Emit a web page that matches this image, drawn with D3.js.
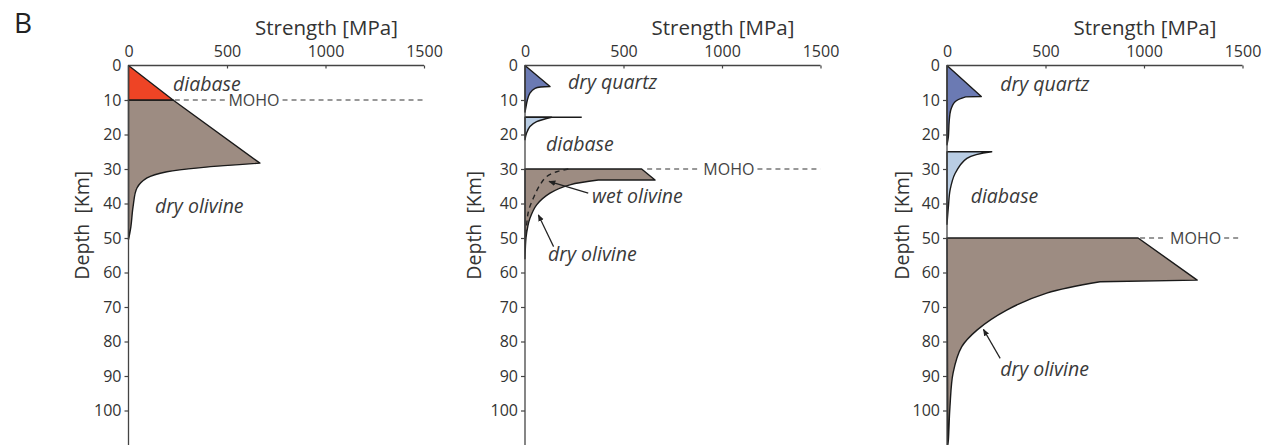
<!DOCTYPE html>
<html><head><meta charset="utf-8">
<script src="https://cdn.jsdelivr.net/npm/d3@7"></script>
<style>
html,body{margin:0;padding:0;background:#fff;}
svg{display:block;font-family:"Open Sans","Noto Sans",sans-serif;}
</style></head>
<body>
<svg id="chart" width="1284" height="445"></svg>
<script>
// ---- axis ticks ----
const strengthTicks = [0, 500, 1000, 1500];
const depthTicks = [0, 10, 20, 30, 40, 50, 60, 70, 80, 90, 100];
const strengthDomain = [0, 1500];
const depthDomain = [0, 110];

// ---- panel 1 : [strength MPa, depth km] ----
const p1DiabaseBrittle = [[0, 0], [226, 10], [0, 10]];
const p1OlivineBrittle = [[0, 10], [226, 10], [667, 28.3]];
const p1OlivineDuctile = [[667, 28.3], [195, 30.8], [94, 32.6], [43, 35.5], [23, 41], [12, 46.8], [0, 50.5]];

// ---- panel 2 ----
const p2QuartzBrittle = [[0, 0], [127, 6.1]];
const p2QuartzDuctile = [[127, 6.1], [51, 6.6], [25, 8], [12, 10], [5, 12], [0, 13.5]];
const p2DiabaseBrittle = [[0, 15], [135, 15]];
const p2DiabaseDuctile = [[135, 15], [59, 16.3], [25, 17.7], [8, 19.6], [0, 21.5]];
const p2DiabaseTop = [[0, 15], [288, 15]];
const p2OlivineBrittle = [[0, 30], [592, 30], [660, 33.2], [372, 33.2]];
const p2OlivineDuctile = [[372, 33.2], [228, 34.6], [127, 37], [59, 40.4], [25, 44.3], [14, 46.7], [5, 50], [0, 56]];
const p2WetOlivine = [[220, 30], [161, 30.8], [110, 32.2], [76, 34.6], [42, 38.5], [17, 42.4], [5, 49]];

// ---- panel 3 ----
const p3QuartzBrittle = [[0, 0], [174, 9], [95, 9.1]];
const p3QuartzDuctile = [[95, 9.1], [41, 10.5], [19, 12.9], [11, 16.3], [7, 20.6], [0, 23]];
const p3DiabaseBrittle = [[0, 25], [227, 25]];
const p3DiabaseDuctile = [[227, 25], [101, 26.9], [41, 31.3], [16, 36], [7, 41], [0, 46]];
const p3OlivineBrittle = [[0, 50], [970, 50], [1270, 62.2], [777, 62.7]];
const p3OlivineDuctile = [[777, 62.7], [506, 66], [303, 70.9], [152, 76.7], [75, 81.5], [31, 89.1], [15, 98.9], [7, 108.5], [4, 110]];

// ---- annotations: [text, strength, depth] ----
const p1Labels = [["diabase", 226, 7.4], ["dry olivine", 134, 42.8]];
const p2Labels = [["dry quartz", 218, 6.9], ["diabase", 107, 24.8], ["wet olivine", 340, 39.8], ["dry olivine", 117, 56.7]];
const p3Labels = [["dry quartz", 270, 7.3], ["diabase", 120, 39.8], ["dry olivine", 270, 90]];
// arrows: [fromStrength, fromDepth, toStrength, toDepth]
const p2Arrows = [[321, 37, 122, 33.6], [145, 52.5, 68, 43.3]];
const p3Arrows = [[270, 84.9, 185, 76.5]];
// MOHO: depth, dash start, dash end, label centre (MPa)
const mohoDepths = [10, 30, 50];
const mohoStart = [235, 620, 980];
const mohoEnd = [1500, 1500, 1480];
const mohoLabelAt = [637, 1035, 1262];

const axisTitleX = "Strength [MPa]";
const axisTitleY = "Depth  [Km]";

// ---- colours ----
const cRed = "#ee4425", cBrown = "#9d8c82", cQuartz = "#6b7ab3", cDiabase = "#b9cde4";

// ---- layout ----
const panelX0 = [128.5, 525, 947];
const panelYTitle = [-40, -44, -38];
const yTop = 65.5, yBottom100 = 410.5;

const panels = [
  {layers: [
     {b: p1OlivineBrittle, d: p1OlivineDuctile, fill: cBrown},
     {b: p1DiabaseBrittle, d: null, fill: cRed}],
   extra: [], dashed: [], labels: p1Labels, arrows: []},
  {layers: [
     {b: p2QuartzBrittle, d: p2QuartzDuctile, fill: cQuartz},
     {b: p2DiabaseBrittle, d: p2DiabaseDuctile, fill: cDiabase},
     {b: p2OlivineBrittle, d: p2OlivineDuctile, fill: cBrown}],
   extra: [p2DiabaseTop], dashed: [p2WetOlivine], labels: p2Labels, arrows: p2Arrows},
  {layers: [
     {b: p3QuartzBrittle, d: p3QuartzDuctile, fill: cQuartz},
     {b: p3DiabaseBrittle, d: p3DiabaseDuctile, fill: cDiabase},
     {b: p3OlivineBrittle, d: p3OlivineDuctile, fill: cBrown}],
   extra: [], dashed: [], labels: p3Labels, arrows: p3Arrows}
];

const svg = d3.select("#chart");
const defs = svg.append("defs");
defs.append("marker").attr("id", "ah").attr("viewBox", "0 0 10 10")
  .attr("refX", 9).attr("refY", 5).attr("markerWidth", 7).attr("markerHeight", 7)
  .attr("markerUnits", "userSpaceOnUse").attr("orient", "auto")
  .append("path").attr("d", "M0,1 L10,5 L0,9 Z").attr("fill", "#222");

svg.append("text").attr("x", 14).attr("y", 33).attr("font-size", 28)
  .attr("fill", "#222").text("B");

const pxPerUnit = (yBottom100 - yTop) / 100;
const y = d3.scaleLinear().domain(depthDomain).range([yTop, yTop + pxPerUnit * depthDomain[1]]);

panels.forEach((p, i) => {
  const x0 = panelX0[i];
  const x = d3.scaleLinear().domain(strengthDomain).range([x0, x0 + 295.5]);
  const g = svg.append("g");
  const smooth = d3.line().x(d => x(d[0])).y(d => y(d[1])).curve(d3.curveCatmullRom.alpha(0.5));
  const straight = d3.line().x(d => x(d[0])).y(d => y(d[1]));

  p.layers.forEach(L => {
    let path = straight(L.b);
    if (L.d) path += smooth(L.d).replace(/^M/, "L");
    path += "Z";
    g.append("path").attr("d", path).attr("fill", L.fill)
      .attr("stroke", "#1a1a1a").attr("stroke-width", 1.4).attr("stroke-linejoin", "round");
  });
  p.extra.forEach(e => {
    g.append("path").attr("d", straight(e)).attr("fill", "none")
      .attr("stroke", "#1a1a1a").attr("stroke-width", 1.6);
  });
  p.dashed.forEach(e => {
    g.append("path").attr("d", smooth(e)).attr("fill", "none")
      .attr("stroke", "#222").attr("stroke-width", 1.4).attr("stroke-dasharray", "5,4");
  });

  // MOHO
  const mt = g.append("text").attr("x", x(mohoLabelAt[i])).attr("y", y(mohoDepths[i]))
    .attr("dy", "0.36em").attr("text-anchor", "middle").attr("font-size", 16)
    .attr("fill", "#444").text("MOHO");
  const bb = mt.node().getBBox();
  const my = y(mohoDepths[i]);
  [[x(mohoStart[i]), bb.x - 3], [bb.x + bb.width + 3, x(mohoEnd[i])]].forEach(s => {
    g.append("line").attr("x1", s[0]).attr("x2", s[1]).attr("y1", my).attr("y2", my)
      .attr("stroke", "#333").attr("stroke-width", 1.1).attr("stroke-dasharray", "5,4");
  });

  // labels
  p.labels.forEach(l => {
    g.append("text").attr("x", x(l[1])).attr("y", y(l[2])).attr("font-size", 19.5)
      .attr("font-style", "italic").attr("fill", "#3a3a3a").text(l[0]);
  });
  p.arrows.forEach(a => {
    g.append("line").attr("x1", x(a[0])).attr("y1", y(a[1])).attr("x2", x(a[2])).attr("y2", y(a[3]))
      .attr("stroke", "#222").attr("stroke-width", 1.2).attr("marker-end", "url(#ah)");
  });

  // axes
  const xAxis = d3.axisTop(x).tickValues(strengthTicks).tickSize(-3).tickPadding(9).tickFormat(d3.format("d"));
  const gx = g.append("g").attr("transform", `translate(0,${yTop})`).call(xAxis);
  const yAxis = d3.axisLeft(y).tickValues(depthTicks).tickSize(4).tickPadding(3).tickFormat(d3.format("d"));
  const gy = g.append("g").attr("transform", `translate(${x0},0)`).call(yAxis);
  [gx, gy].forEach(a => {
    a.select(".domain").attr("stroke", "#444").attr("stroke-width", 1.3);
    a.selectAll(".tick line").attr("stroke", "#444").attr("stroke-width", 1.2);
    a.selectAll(".tick text").attr("font-size", 16).attr("fill", "#333")
      .attr("font-family", "'Open Sans','Noto Sans',sans-serif");
  });
  gx.select(".domain").attr("d", `M${x0},0H${x0 + 295.5}`);
  gy.select(".domain").attr("d", `M0,${yTop}V445`);
  gy.selectAll(".tick").filter(d => d === 0).select("line").remove();
  gx.selectAll(".tick").filter(d => d === 0).select("line").remove();

  g.append("text").attr("x", x(1005)).attr("y", 35).attr("text-anchor", "middle")
    .attr("font-size", 20.5).attr("fill", "#333").text(axisTitleX);
  g.append("text").attr("transform", `translate(${x0 + panelYTitle[i]},${y(46.3)}) rotate(-90)`)
    .attr("text-anchor", "middle").attr("font-size", 19.5).attr("fill", "#333")
    .style("white-space", "pre").text(axisTitleY);
});
</script>
</body></html>
